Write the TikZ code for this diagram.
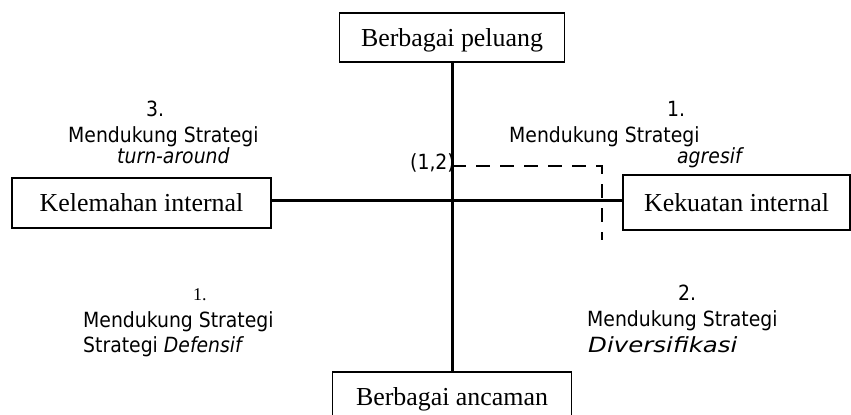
\documentclass[tikz,border=0pt]{standalone}
\usepackage{fontspec}
\setmainfont{Liberation Serif}
\newfontfamily\sansf{DejaVu Sans Condensed}
\begin{document}
\begin{tikzpicture}[x=1bp,y=-1bp,
  box/.style={draw, line width=1.5bp, inner sep=0pt, text height=17bp, text depth=0pt,
    font=\fontsize{26}{30}\selectfont},
  axis/.style={line width=3bp},
  dashline/.style={line width=2.8bp, dash pattern=on 14bp off 10bp},
  lbl/.style={anchor=base west, inner sep=0pt, font=\sansf\fontsize{21}{24}\selectfont}]
\useasboundingbox (0,0) rectangle (851,414);
\fill[white] (0,0) rectangle (851,414);
% boxes
\node[box, minimum width=225bp, minimum height=49bp] (top) at (452,37.5) {Berbagai peluang};
\node[box, minimum width=239bp, minimum height=49bp] (bot) at (452,396.5) {Berbagai ancaman};
\node[box, minimum width=259bp, minimum height=50bp] (left) at (141.5,203) {Kelemahan internal};
\node[box, minimum width=227bp, minimum height=55bp] (right) at (736.5,202.5) {Kekuatan internal};
% axes
\draw[axis] (top.south) -- (bot.north);
\draw[axis] (left.east |- 0,200) -- (right.west |- 0,200);
% dashed
\coordinate (d0) at (452,166);
\coordinate (d1) at (602,166);
\coordinate (d2) at (602,240);
\draw[dashline] (d0) -- (d1) -- (d2);
\node[lbl] (pt) at (410,169) {(1,2)};
% top-left
\node[lbl] (tl1) at (146,116) {3.};
\node[lbl] (tl2) at (68,142) {Mendukung Strategi};
\node[lbl] (tl3) at (117,163) {\itshape turn-around};
% top-right
\node[lbl] (tr1) at (667,116) {1.};
\node[lbl] (tr2) at (509,142) {Mendukung Strategi};
\node[lbl] (tr3) at (677,163) {\itshape agresif};
% bottom-left
\node[anchor=base west, inner sep=0pt, font=\fontsize{18}{22}\selectfont] (bl1) at (193,300) {1.};
\node[lbl] (bl2) at (83,327) {Mendukung Strategi};
\node[lbl] (bl3) at (83,352) {Strategi \itshape Defensif};
% bottom-right
\node[lbl] (br1) at (678,300) {2.};
\node[lbl] (br2) at (587,326) {Mendukung Strategi};
\node[lbl] (br3) at (588,352) {\scalebox{1.3}[1]{\itshape Diversifikasi}};
\end{tikzpicture}
\end{document}
